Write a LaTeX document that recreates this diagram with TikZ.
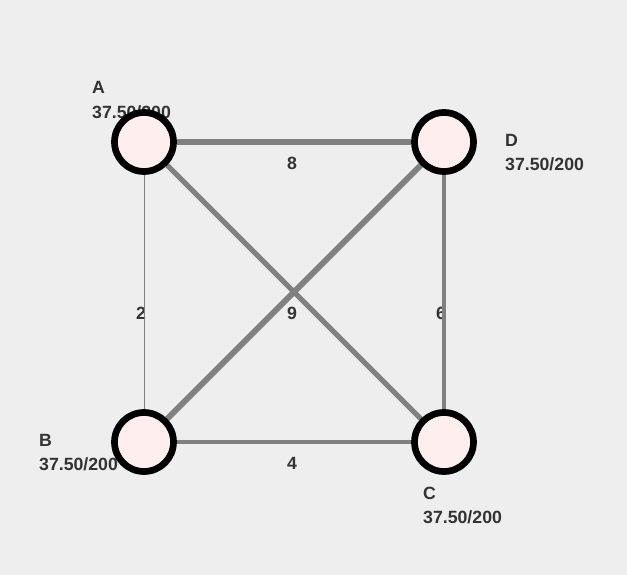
\documentclass[tikz,border=0pt]{standalone}
\usepackage{fontspec}
\setmainfont{Liberation Sans}
\usetikzlibrary{calc, positioning}
\pgfdeclarelayer{front}
\pgfsetlayers{main,front}
\definecolor{bgcol}{HTML}{EEEEEE}
\definecolor{nodefill}{HTML}{FFEEEE}
\definecolor{edgecol}{HTML}{808080}
\definecolor{txtcol}{HTML}{333333}

\begin{document}
\begin{tikzpicture}[x=1pt, y=-1pt,
  station/.style={circle, draw=black, line width=6.7pt, fill=nodefill,
    minimum size=59pt, inner sep=0pt},
  vlabel/.style={anchor=north west, inner sep=0pt, align=left, text=txtcol,
    font=\fontsize{17.7}{24.4}\selectfont\bfseries},
  elabel/.style={anchor=base, inner sep=0pt, text=txtcol,
    font=\fontsize{17.7}{20}\selectfont\bfseries},
  edge/.style={draw=edgecol}]
  % background
  \fill[bgcol] (0,0) rectangle (627,575);
  \useasboundingbox (0,0) rectangle (627,575);

  % stations
  \begin{pgfonlayer}{front}
    \node[station] (A) at (144,142) {};
    \node[station] (D) at (444,142) {};
    \node[station] (B) at (144,442) {};
    \node[station] (C) at (444,442) {};
  \end{pgfonlayer}

  % station labels
  \node[vlabel] (labA) at ($(A)+(-52,-60.5)$) {A\\37.50/200};
  \node[vlabel] (labD) at ($(D)+(61,-8)$) {D\\37.50/200};
  \node[vlabel] (labB) at ($(B)+(-105,-8)$) {B\\37.50/200};
  \node[vlabel] (labC) at ($(C)+(-21,44.5)$) {C\\37.50/200};

  % weights
  \node[elabel] (wAD) at ($(A)!.5!(D)+(-2,27.5)$) {8};
  \node[elabel] (wAB) at ($(A)!.5!(B)+(-3,27.5)$) {2};
  \node[elabel] (wDB) at ($(D)!.5!(B)+(-2,27.5)$) {9};
  \node[elabel] (wDC) at ($(D)!.5!(C)+(-3,27.5)$) {6};
  \node[elabel] (wBC) at ($(B)!.5!(C)+(-2,27.5)$) {4};

  % links
  \draw[edge, line width=6pt] (A) -- (D);
  \draw[edge, line width=1pt] (A) -- (B);
  \draw[edge, line width=5pt] (A) -- (C);
  \draw[edge, line width=5.7pt] (D) -- (B);
  \draw[edge, line width=4pt] (D) -- (C);
  \draw[edge, line width=3.3pt] (B) -- (C);
\end{tikzpicture}
\end{document}
